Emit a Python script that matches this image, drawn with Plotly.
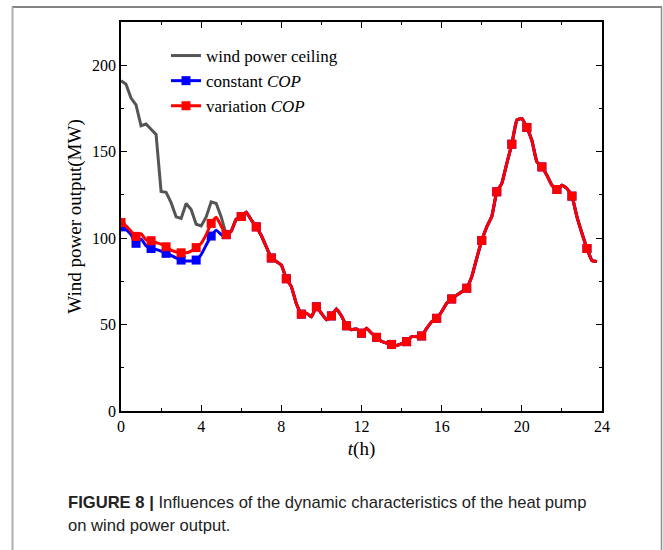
import plotly.graph_objects as go

# time axis, 15-min steps (h)
t = [i * 0.25 for i in range(96)]

# variation COP (MW)
variation_cop = [
    109, 107, 104, 101, 102.5, 99, 98.5, 97.5, 96.5, 95, 93, 92,
    91.5, 91.5, 92.5, 94.5, 97, 102, 108.5, 112, 107, 102, 104, 111,
    112.5, 115, 110.5, 106.5, 101.5, 95, 88.5, 86.5, 84.5, 76.5, 72, 62,
    56, 56.5, 54.5, 60.3, 56.5, 52.8, 55, 59, 55, 49.3, 47, 47.5,
    45, 47.8, 45, 42.6, 40.2, 39.3, 38.5, 37.9, 39, 40.1, 43, 43,
    43.4, 47.8, 51.6, 53.6, 57.4, 62.3, 64.8, 67, 69, 71, 77.6, 88.5,
    98.6, 106.5, 112.5, 126.8, 131.6, 143.2, 154.3, 168.2, 169.2, 164, 156.6, 144.1,
    141.2, 136.4, 130.6, 128.1, 130.6, 128.7, 124.3, 112.3, 102.7, 94, 87, 86.5,
]

# constant COP (MW): differs from variation COP only before 5.25 h
constant_cop_head = [
    106.5, 105, 102, 97, 99.5, 95.5, 94, 93.5, 92.5, 91.2, 90, 88.5,
    87.3, 86.8, 86.8, 87.3, 90.5, 96, 101.2, 104.6, 102,
]
constant_cop = constant_cop_head + variation_cop[len(constant_cop_head):]

# wind power ceiling (MW): coincides with the output after 5.25 h
ceiling_head = [
    191, 189, 181, 177, 165, 166, 163, 160, 127, 126.5, 120.5, 112.3,
    111.4, 120, 116.5, 108, 107, 112.3, 121, 120, 112.3,
]
ceiling = ceiling_head + variation_cop[len(ceiling_head):]

marker_every = 3
msize = [9 if i % marker_every == 0 else 0 for i in range(len(t))]

GRAY = "#555555"
BLUE = "#0000ff"
RED = "#ff0000"
SERIF = "Liberation Serif, Times New Roman, serif"

fig = go.Figure()
fig.add_trace(go.Scatter(x=t, y=ceiling, mode="lines", line=dict(color=GRAY, width=3),
                         showlegend=False))
fig.add_trace(go.Scatter(x=t, y=constant_cop, mode="lines+markers",
                         line=dict(color=BLUE, width=3, shape="spline", smoothing=0.5),
                         marker=dict(symbol="square", size=msize, sizemode="diameter", sizeref=1,
                                     opacity=1, color=BLUE, line=dict(width=0)),
                         showlegend=False))
fig.add_trace(go.Scatter(x=t, y=variation_cop, mode="lines+markers",
                         line=dict(color=RED, width=3, shape="spline", smoothing=0.5),
                         marker=dict(symbol="square", size=msize, sizemode="diameter", sizeref=1,
                                     opacity=1, color=RED, line=dict(width=0)),
                         showlegend=False))

# legend entries
fig.add_trace(go.Scatter(x=[None], y=[None], mode="lines", line=dict(color=GRAY, width=3),
                         name="wind power ceiling"))
fig.add_trace(go.Scatter(x=[None], y=[None], mode="lines+markers", line=dict(color=BLUE, width=3),
                         marker=dict(symbol="square", size=9, color=BLUE), name="constant <i>COP</i>"))
fig.add_trace(go.Scatter(x=[None], y=[None], mode="lines+markers", line=dict(color=RED, width=3),
                         marker=dict(symbol="square", size=9, color=RED), name="variation <i>COP</i>"))

L, R, T, B = 121, 602, 22, 411
W, H = 663, 550
pw, ph = R - L, B - T


def px(x):
    return (x - L) / pw


def py(y):
    return (B - y) / ph


shapes = [
    dict(type="line", xref="paper", yref="paper", x0=px(12), x1=px(662), y0=py(7), y1=py(7),
         line=dict(color="#5a5a5a", width=1.5)),
    dict(type="line", xref="paper", yref="paper", x0=px(12.5), x1=px(12.5), y0=py(7), y1=py(550),
         line=dict(color="#b0b0b0", width=2)),
    dict(type="line", xref="paper", yref="paper", x0=px(661.5), x1=px(661.5), y0=py(7), y1=py(550),
         line=dict(color="#909090", width=1.5)),
]

CAP_FONT = dict(family="Liberation Sans, Arial, sans-serif", size=16.6, color="#222222")
annotations = [
    dict(xref="paper", yref="paper", x=px(66), y=py(502), xanchor="left", yanchor="middle",
         showarrow=False, align="left",
         text="<b>FIGURE 8 |</b> Influences of the dynamic characteristics of the heat pump",
         font=CAP_FONT),
    dict(xref="paper", yref="paper", x=px(66), y=py(525), xanchor="left", yanchor="middle",
         showarrow=False, align="left",
         text="on wind power output.",
         font=CAP_FONT),
]

axis_common = dict(showline=True, linecolor="black", linewidth=1.5, mirror="allticks",
                   ticks="inside", ticklen=6, tickwidth=1.3, tickcolor="black",
                   showgrid=False, zeroline=False,
                   tickfont=dict(family=SERIF, size=16, color="black"))

fig.update_layout(
    width=W, height=H,
    margin=dict(l=L, r=W - R, t=T, b=H - B),
    paper_bgcolor="white", plot_bgcolor="white",
    xaxis=dict(range=[0, 24], dtick=4, tick0=0,
               minor=dict(dtick=2, ticks="inside", ticklen=3, tickcolor="black", tickwidth=1.3),
               title=dict(text="<i>t</i>(h)", font=dict(family=SERIF, size=19, color="black"), standoff=8),
               **axis_common),
    yaxis=dict(range=[0, 225], dtick=50, tick0=0,
               minor=dict(dtick=25, ticks="inside", ticklen=3, tickcolor="black", tickwidth=1.3),
               title=dict(text="Wind power output(MW)", font=dict(family=SERIF, size=19, color="black"), standoff=5),
               **axis_common),
    legend=dict(x=px(166), y=py(38), xanchor="left", yanchor="top",
                bgcolor="rgba(0,0,0,0)", font=dict(family=SERIF, size=17, color="black"),
                tracegroupgap=0),
    shapes=shapes,
    annotations=annotations,
)

fig.write_html("out.html")
